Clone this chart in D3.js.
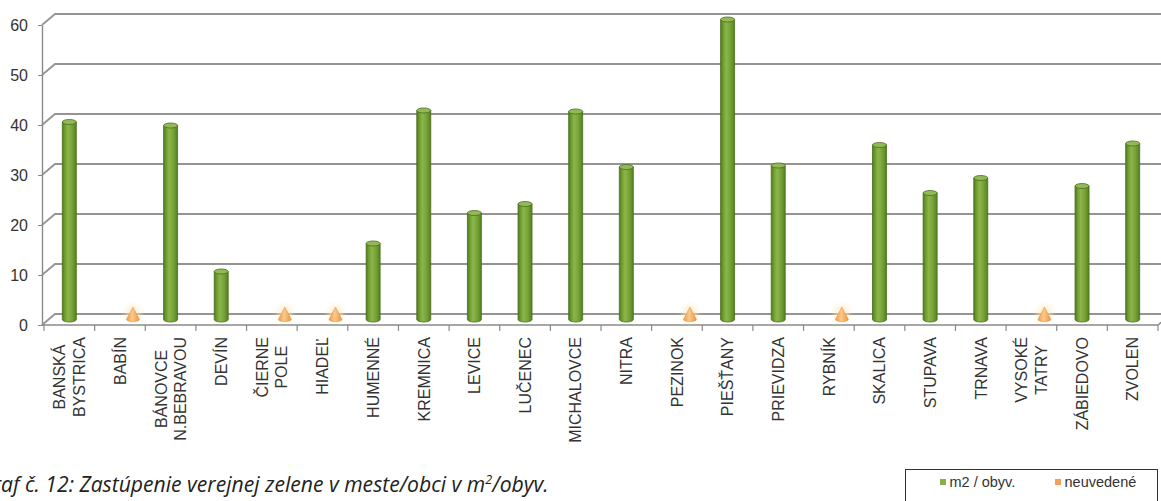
<!DOCTYPE html>
<html>
<head>
<meta charset="utf-8">
<script src="https://cdn.jsdelivr.net/npm/d3@7"></script>
<style>
  body { margin: 0; background: #fff; }
  svg { display: block; }
</style>
</head>
<body>
<div id="chart"></div>
<script>
// 3d column chart - verejna zelen m2 / obyv.

const width = 1161
const height = 501

const categories = ['BANSKÁ\nBYSTRICA', 'BABÍN', 'BÁNOVCE\nN.BEBRAVOU', 'DEVÍN', 'ČIERNE\nPOLE', 'HIADEĽ',
  'HUMENNÉ', 'KREMNICA', 'LEVICE', 'LUČENEC', 'MICHALOVCE', 'NITRA', 'PEZINOK', 'PIEŠŤANY',
  'PRIEVIDZA', 'RYBNÍK', 'SKALICA', 'STUPAVA', 'TRNAVA', 'VYSOKÉ\nTATRY', 'ZÁBIEDOVO', 'ZVOLEN']
const m2PerCapita = [39.5, null, 38.8, 9.6, null, null, 15.2, 41.8, 21.3, 23.1, 41.6, 30.5, null, 60,
  30.8, null, 34.9, 25.3, 28.3, null, 26.7, 35.2]
const notStated = [null, 2.5, null, null, 2.5, 2.5, null, null, null, null, null, null, 2.5, null,
  null, 2.5, null, null, null, 2.5, null, null]
const yTicks = [0, 10, 20, 30, 40, 50, 60]
const legendLabels = ['m2 / obyv.', 'neuvedené']
const caption = 'Graf č. 12: Zastúpenie verejnej zelene v meste/obci v m'
const captionEnd = '/obyv.'

const depth = { dx: 13, dy: -11 } // back wall offset
const barMid = 0.5 // bars sit halfway into the depth
const barW = 14
const coneW = 13
const coneShift = 13
const textColor = '#333'

const svg = d3.select('#chart').append('svg').attr('width', width).attr('height', height)
const defs = svg.append('defs')

const x = d3.scaleBand().domain(categories).range([44, 1158])
const y = d3.scaleLinear().domain([0, 60]).range([325, 25])
const yBar = v => y(v) + depth.dy * barMid

// gradients
const g1 = defs.append('linearGradient').attr('id', 'green').attr('x1', 0).attr('x2', 1)
g1.selectAll('stop')
  .data([['0%', '#4f7a1f'], ['18%', '#6f9c30'], ['40%', '#8bb64a'], ['70%', '#76a238'], ['100%', '#557f22']])
  .join('stop').attr('offset', d => d[0]).attr('stop-color', d => d[1])
const g2 = defs.append('linearGradient').attr('id', 'orange').attr('x1', 0).attr('x2', 1)
g2.selectAll('stop')
  .data([['0%', '#f29a45'], ['45%', '#fcc98c'], ['100%', '#ee9440']])
  .join('stop').attr('offset', d => d[0]).attr('stop-color', d => d[1])
defs.append('filter').attr('id', 'glow').attr('x', '-80%').attr('y', '-80%').attr('width', '260%').attr('height', '260%')
  .append('feGaussianBlur').attr('stdDeviation', 2.5)

// grid + walls
const gridG = svg.append('g').attr('class', 'grid')
const x0 = x.range()[0] - 2
const xEnd = x.range()[1]
gridG.selectAll('path')
  .data(yTicks)
  .join('path')
  .attr('d', v => 'M' + x0 + ',' + y(v) + 'L' + (x0 + depth.dx) + ',' + (y(v) + depth.dy) +
    'L' + (xEnd + depth.dx) + ',' + (y(v) + depth.dy))
  .attr('fill', 'none')
  .attr('stroke', '#949494')
  .attr('stroke-width', 1.8)

// floor front edge
svg.append('path')
  .attr('d', 'M' + x0 + ',' + y(0) + 'L' + xEnd + ',' + y(0) + 'L' + (xEnd + depth.dx) + ',' + (y(0) + depth.dy))
  .attr('fill', 'none').attr('stroke', '#8a8a8a').attr('stroke-width', 1.4)

// x ticks at category bounds
const bounds = d3.range(categories.length + 1).map(i => x.range()[0] + i * x.step())
svg.append('g').selectAll('line')
  .data(bounds)
  .join('line')
  .attr('x1', d => d).attr('x2', d => d)
  .attr('y1', y(0)).attr('y2', y(0) + 6)
  .attr('stroke', '#8a8a8a').attr('stroke-width', 1.2)

// y axis
const yAxis = svg.append('g')
  .attr('transform', 'translate(' + x0 + ',0)')
  .call(d3.axisLeft(y).tickValues(yTicks).tickSize(4).tickPadding(10).tickSizeOuter(0))
yAxis.select('.domain').attr('stroke', '#8a8a8a').attr('stroke-width', 1.4)
yAxis.selectAll('.tick line').attr('stroke', '#8a8a8a')
yAxis.selectAll('text')
  .attr('fill', textColor)
  .style('font-family', 'Liberation Sans, Arial, sans-serif')
  .style('font-size', '16px')

// cones (neuvedene)
const coneData = notStated.map((v, i) => ({ v, c: categories[i] })).filter(d => d.v != null)
const coneG = svg.append('g').selectAll('g').data(coneData).join('g')
  .attr('transform', d => 'translate(' + (x(d.c) + x.bandwidth() / 2 + coneShift) + ',0)')
coneG.append('ellipse')
  .attr('cx', 0).attr('cy', d => (yBar(d.v) + yBar(0)) / 2)
  .attr('rx', 8).attr('ry', 9)
  .attr('fill', '#fdebc0').attr('opacity', 0.6).attr('filter', 'url(#glow)')
coneG.append('path')
  .attr('d', d => 'M' + (-coneW / 2) + ',' + yBar(0) + 'L0,' + yBar(d.v) + 'L' + (coneW / 2) + ',' + yBar(0) +
    'A' + (coneW / 2) + ',2 0 0 1 ' + (-coneW / 2) + ',' + yBar(0) + 'Z')
  .attr('fill', 'url(#orange)')
  .attr('stroke', '#e08a3a').attr('stroke-width', 0.5)

// green cylinders
const barData = m2PerCapita.map((v, i) => ({ v, c: categories[i] })).filter(d => d.v != null)
const barG = svg.append('g').selectAll('g').data(barData).join('g')
  .attr('transform', d => 'translate(' + (x(d.c) + x.bandwidth() / 2) + ',0)')
barG.append('path')
  .attr('d', d => 'M' + (-barW / 2) + ',' + yBar(d.v) + 'L' + (-barW / 2) + ',' + yBar(0) +
    'A' + (barW / 2) + ',2.5 0 0 0 ' + (barW / 2) + ',' + yBar(0) + 'L' + (barW / 2) + ',' + yBar(d.v) + 'Z')
  .attr('fill', 'url(#green)')
  .attr('stroke', '#4a6e1c').attr('stroke-width', 0.8)
barG.append('ellipse')
  .attr('cx', 0).attr('cy', d => yBar(d.v))
  .attr('rx', barW / 2).attr('ry', 2.5)
  .attr('fill', '#93b957')
  .attr('stroke', '#4a6e1c').attr('stroke-width', 0.8)

// category labels, rotated
const lineH = 19.5
const labelTop = 337
const labG = svg.append('g').selectAll('g').data(categories).join('g')
  .attr('transform', d => 'translate(' + (x(d) + x.bandwidth() / 2) + ',' + labelTop + ') rotate(-90)')
labG.each(function (d) {
  const g = d3.select(this)
  const lines = d.split('\n')
  const texts = g.selectAll('text').data(lines).join('text')
    .text(t => t)
    .attr('y', (t, i) => (i - (lines.length - 1) / 2) * lineH)
    .attr('dy', '0.36em')
    .attr('text-anchor', 'middle')
    .attr('fill', textColor)
    .style('font-family', 'Liberation Sans, Arial, sans-serif')
    .style('font-size', '16px')
  let maxLen = 0
  texts.each(function () { maxLen = Math.max(maxLen, this.getComputedTextLength()) })
  texts.attr('x', -maxLen / 2)
})

// caption (left part runs off the page like in the source)
const capEnd = 548 // right end of caption
const cap = svg.append('text')
  .attr('y', 492)
  .attr('fill', '#222')
  .style('font-family', 'Open Sans, sans-serif')
  .style('font-style', 'italic')
const capMain = cap.append('tspan').text(caption)
const capSup = cap.append('tspan').text('2')
const capTail = cap.append('tspan').text(captionEnd)
function sizeCaption (fs) {
  cap.style('font-size', fs + 'px')
  capSup.attr('dy', -fs * 0.4).style('font-size', (fs * 0.6) + 'px')
  capTail.attr('dy', fs * 0.4)
}
sizeCaption(17)
let lead = cap.node().getSubStringLength(0, 2)
let full = cap.node().getComputedTextLength()
const fs = 17 * capEnd / (full - lead)
sizeCaption(fs)
lead = cap.node().getSubStringLength(0, 2)
cap.attr('x', -lead + 1)

// legend
const legend = svg.append('g').attr('transform', 'translate(905,469)')
legend.append('rect')
  .attr('x', 0.5).attr('y', 0.5).attr('width', 252).attr('height', 50)
  .attr('fill', '#fff').attr('stroke', '#333').attr('stroke-width', 1)
const legItems = legend.selectAll('g.item')
  .data(legendLabels)
  .join('g')
  .attr('class', 'item')
  .attr('transform', (d, i) => 'translate(' + [35, 150][i] + ',0)')
legItems.append('rect')
  .attr('x', 0).attr('y', 10).attr('width', 6).attr('height', 6)
  .attr('fill', (d, i) => ['#8aae4c', '#f4a05a'][i])
legItems.append('text')
  .text(d => d)
  .attr('x', 9.5).attr('y', 18)
  .attr('fill', textColor)
  .style('font-family', 'Liberation Sans, Arial, sans-serif')
  .style('font-size', '14.5px')
</script>
</body>
</html>
